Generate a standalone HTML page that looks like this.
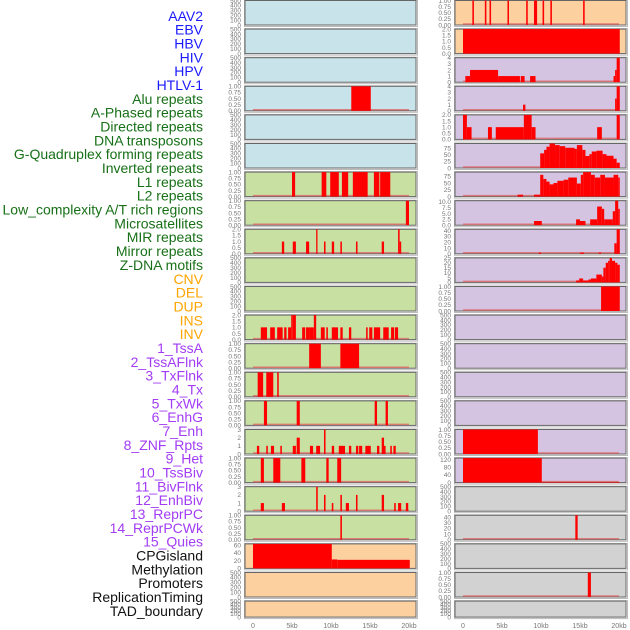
<!DOCTYPE html>
<html><head><meta charset="utf-8"><style>
html,body{margin:0;padding:0;background:#fff;width:630px;height:630px;overflow:hidden}
svg{display:block;font-family:"Liberation Sans",sans-serif}
</style></head><body>
<svg id="chart" width="630" height="630" viewBox="0 0 630 630" xmlns="http://www.w3.org/2000/svg"></svg>
<script>
const rowLabels = ["AAV2","EBV","HBV","HIV","HPV","HTLV-1","Alu repeats","A-Phased repeats","Directed repeats","DNA transposons","G-Quadruplex forming repeats","Inverted repeats","L1 repeats","L2 repeats","Low_complexity A/T rich regions","Microsatellites","MIR repeats","Mirror repeats","Z-DNA motifs","CNV","DEL","DUP","INS","INV","1_TssA","2_TssAFlnk","3_TxFlnk","4_Tx","5_TxWk","6_EnhG","7_Enh","8_ZNF_Rpts","9_Het","10_TssBiv","11_BivFlnk","12_EnhBiv","13_ReprPC","14_ReprPCWk","15_Quies","CPGisland","Methylation","Promoters","ReplicationTiming","TAD_boundary"];
const labelGroups = ["v","v","v","v","v","v","r","r","r","r","r","r","r","r","r","r","r","r","r","s","s","s","s","s","c","c","c","c","c","c","c","c","c","c","c","c","c","c","c","o","o","o","o","o"];
const xTickValues = [0,5,10,15,20];
const xTickLabels = ["0","5kb","10kb","15kb","20kb"];
const leftBg = ["b","b","b","b","b","b","g","g","g","g","g","g","g","g","g","g","g","g","g","p","p","p"];
const rightBg = ["p","p","u","u","u","u","u","u","u","u","u","u","u","u","u","u","u","y","y","y","y","y"];
const E = ["0","100","200","300","400","500"];
const U1 = ["0.00","0.25","0.50","0.75","1.00"];
const U2 = ["0.0","0.5","1.0","1.5","2.0"];
const leftTicks = [E,E,E,U1,E,E,U1,U1,U2,E,E,U2,U1,U1,U1,["0","1","2","3"],U1,["0","1","2","3"],U1,["0","20","40","60"],E,E];
const rightTicks = [U1,U2,["0","1","2","3","4"],["0","1","2","3","4"],U2,["0","25","50","75"],["0","25","50","75"],["0.0","2.5","5.0","7.5","10.0"],["0","10","20","30","40"],["0","5","10","15","20","25"],U1,E,E,E,E,U1,["0","40","80","120"],E,["0","10","20","30","40"],E,U1,E];
const leftBars = [
 [],[],[],
 [[12.6,15.1,1]],
 [],[],
 [[5.0,5.4,1],[8.8,9.4,1],[9.9,11.0,1],[11.4,12.2,1],[12.8,14.7,1],[15.5,16.2,1],[16.3,17.6,1]],
 [[19.6,20.0,1]],
 [[3.7,4.0,1],[5.1,5.5,1],[6.8,7.2,1],[8.1,8.2,2],[9.1,9.3,1],[10.1,10.4,1],[11.2,11.4,1],[13.2,13.4,1],[16.5,16.8,1],[18.6,18.8,2],[18.8,19.0,1]],
 [],[],
 [[1.0,1.8,1],[2.2,2.8,1],[3.1,3.8,1],[4.0,4.3,1],[4.5,4.9,1],[4.9,5.1,2],[5.1,5.5,2],[6.3,6.7,1],[6.8,7.3,1],[7.3,7.8,1],[7.8,8.1,2],[8.7,9.2,1],[9.4,9.6,1],[10.1,10.9,1],[11.2,11.5,1],[12.3,12.6,1],[14.5,14.7,1],[14.9,15.3,1],[15.5,16.3,1],[16.7,17.4,1],[17.7,18.1,1],[18.2,18.6,1]],
 [[7.2,8.7,1],[11.2,13.6,1]],
 [[0.6,1.3,1],[1.7,2.6,1],[3.1,3.3,1]],
 [[1.4,1.8,1],[5.6,6.0,1],[15.6,15.9,1],[17.0,17.3,1]],
 [[0.5,0.8,1],[1.7,1.9,1],[2.3,2.7,1],[3.5,3.7,1],[5.1,5.5,1],[5.6,6.0,2],[7.3,7.7,1],[8.1,8.6,1],[9.1,9.3,3],[10.1,10.4,1],[11.0,11.8,1],[12.3,12.6,1],[13.2,13.5,1],[13.6,14.0,1],[14.4,15.1,1],[15.9,16.2,1],[16.5,16.8,2],[16.8,17.0,1],[17.6,17.8,1],[18.0,18.3,1]],
 [[1.0,1.4,1],[2.6,3.5,1],[6.2,6.7,1],[9.4,9.7,1],[10.8,11.3,1]],
 [[1.0,1.4,1],[3.7,4.1,1],[8.1,8.3,3],[9.1,9.3,2],[10.1,10.3,1],[11.2,11.4,2],[11.9,12.3,1],[13.2,13.4,2],[16.5,16.8,2],[18.1,18.3,1],[18.6,19.0,1],[19.6,19.9,1]],
 [[11.2,11.4,1]],
 [[0,10.1,63],[10.1,10.8,23],[10.8,20.1,22]],
 [],[]
];
const rightBars = [
 [[1.2,1.4,1],[2.8,3.0,1],[3.4,3.6,1],[5.7,5.9,1],[8.1,8.3,1],[9.1,9.5,1],[10.2,10.4,1],[11.2,11.4,1],[15.4,15.6,1]],
 [[0,20.1,2]],
 [[0.3,0.9,1],[0.9,4.5,2],[4.5,7.3,1],[7.4,7.9,1],[8.6,9.3,1],[19.3,19.5,1],[19.5,19.7,2],[19.7,20.1,4]],
 [[7.7,8.0,1],[19.5,19.7,2],[19.7,20.1,4]],
 [[0,0.5,2],[0.5,1.1,1],[3.2,3.7,1],[4.2,7.8,1],[7.8,8.8,2],[8.8,9.3,1],[17.2,17.8,1],[19.7,20.1,2]],
 [[9.9,10.4,55],[10.4,10.7,68],[10.7,11.1,80],[11.1,11.8,92],[11.8,12.4,86],[12.4,13.1,82],[13.1,14.3,76],[14.3,14.6,72],[14.6,15.3,86],[15.3,15.7,68],[15.7,16.2,45],[16.2,16.5,52],[16.5,17.1,62],[17.1,17.9,65],[17.9,18.4,52],[18.4,19.3,46],[19.3,19.7,35],[19.7,20.1,20]],
 [[7.0,7.7,7],[9.1,9.9,7],[9.9,10.3,80],[10.3,10.7,65],[10.7,11.1,55],[11.1,11.6,45],[11.6,12.1,50],[12.1,12.9,58],[12.9,13.5,62],[13.5,14.6,70],[14.6,15.1,48],[15.1,15.4,80],[15.4,16.4,90],[16.4,16.9,80],[16.9,17.6,70],[17.6,18.2,80],[18.2,19.3,70],[19.3,19.9,80],[19.9,20.1,70]],
 [[9.1,10.1,1.8],[14.5,15.0,2.5],[15.0,15.7,1.8],[16.3,17.2,2.5],[17.2,17.8,8],[17.8,18.1,7],[18.1,19.2,2.5],[19.2,19.5,6],[19.5,19.9,10.5],[19.9,20.1,7]],
 [[9.7,10.0,2],[15.0,15.5,2],[17.4,17.7,2],[19.4,19.7,18],[19.7,20.1,42]],
 [[14.5,14.9,2],[14.9,15.4,4],[15.4,16.1,2],[16.1,16.4,3],[16.4,17.1,4],[17.1,17.8,8],[17.8,18.0,6],[18.0,18.3,15],[18.3,18.6,20],[18.6,18.8,22],[18.8,19.1,25],[19.1,19.5,22],[19.5,19.8,20],[19.8,20.1,18]],
 [[17.7,20.1,1]],
 [],[],[],[],
 [[0,9.6,1]],
 [[0,10.1,128],[10.1,20.1,3]],
 [],
 [[14.4,14.7,43]],
 [],
 [[16.0,16.4,1]],
 []
];
const colors = {b:"#c8e3ea",g:"#c8e1a3",p:"#fdd0a0",u:"#d5c4e1",y:"#d2d2d2"};
const labelColors = {v:"#1a1aff",r:"#177017",s:"#ffa500",c:"#a23cf5",o:"#111"};
const NS = "http://www.w3.org/2000/svg";
const svg = document.getElementById('chart');
function mk(tag, attrs, parent){const e=document.createElementNS(NS,tag);for(const k in attrs)e.setAttribute(k,attrs[k]);(parent||svg).appendChild(e);return e;}
function rowTop(i){return 0.5+28.6*i;}
function rowH(i){return i===21?16:24.5;}
function xScale(left,kb){return left+8+kb*7.8;}

// labels
rowLabels.forEach((t,i)=>{
  const el=mk('text',{x:203,y:20.8+13.84*i,'text-anchor':'end','font-size':'14',fill:labelColors[labelGroups[i]]});
  el.textContent=t;
  
  
});

function drawPanel(left,i,bg,ticks,bars,side){
  const top=rowTop(i),h=rowH(i),w=171;
  const g=mk('g',{});
  
  
  mk('rect',{x:left-0.5,y:top-0.5,width:w+2,height:h+2,fill:'none',stroke:'#bbb','stroke-width':1},g);
  mk('rect',{x:left,y:top,width:w,height:h,fill:colors[bg],stroke:'#666','stroke-width':1},g);
  const tv=ticks.map(Number);
  let ymax=tv[tv.length-1];
  bars.forEach(b=>{if(b[2]>ymax)ymax=b[2];});
  const ys=v=>top+h-v/ymax*h;
  ticks.forEach((t,k)=>{
    const el=mk('text',{x:left-4,y:ys(tv[k])+2.3,'text-anchor':'end','font-size':'6.5',fill:'#777'},g);
    el.textContent=t;
    
    
  });
  if(bars.length){
    const bl=mk('line',{x1:xScale(left,0),x2:xScale(left,20),y1:top+h-1,y2:top+h-1,stroke:'#d66',opacity:0.8,'stroke-width':1.5},g);
    
    
  }
  bars.forEach(b=>{
    const x0=xScale(left,b[0]),x1=xScale(left,b[1]);
    const r=mk('rect',{x:x0,y:ys(b[2]),width:Math.max(1.3,x1-x0),height:top+h-ys(b[2]),fill:'#ff0000'},g);
    
    
  });
}
for(let i=0;i<22;i++){
  drawPanel(245,i,leftBg[i],leftTicks[i],leftBars[i],'left');
  drawPanel(455,i,rightBg[i],rightTicks[i],rightBars[i],'right');
}
[245,455].forEach(left=>{
  xTickValues.forEach((v,k)=>{
    const el=mk('text',{x:xScale(left,v),y:628,'text-anchor':'middle','font-size':'7',fill:'#777'});
    el.textContent=xTickLabels[k];
    
    
  });
});
</script>
</body></html>
